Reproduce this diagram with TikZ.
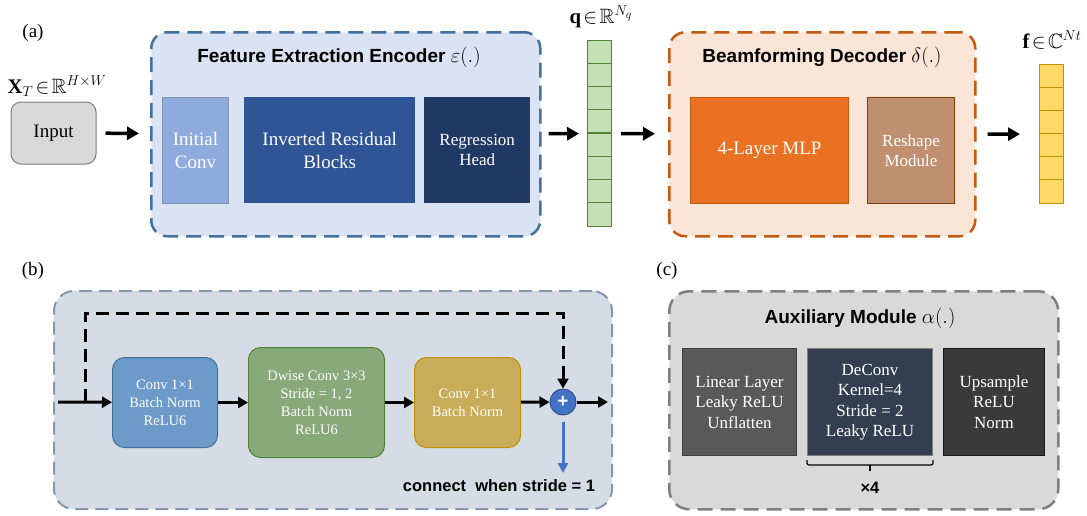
\documentclass[tikz,border=0pt]{standalone}
\usepackage{amsmath}
\usepackage{amssymb}
\usepackage{fontspec}
\setmainfont{Liberation Serif}
\setsansfont{Liberation Sans}
\usetikzlibrary{arrows.meta, positioning, calc}

\definecolor{encfill}{HTML}{DAE3F3}
\definecolor{encline}{HTML}{41719C}
\definecolor{initc}{HTML}{8FAADC}
\definecolor{initline}{HTML}{8093B3}
\definecolor{invc}{HTML}{2F5597}
\definecolor{regc}{HTML}{203864}
\definecolor{qfill}{HTML}{C5E0B4}
\definecolor{qline}{HTML}{548235}
\definecolor{decfill}{HTML}{FBE5D6}
\definecolor{decline}{HTML}{C55A11}
\definecolor{mlpc}{HTML}{EA7022}
\definecolor{reshc}{HTML}{BF8F6F}
\definecolor{reshline}{HTML}{843C0C}
\definecolor{ffill}{HTML}{FFD966}
\definecolor{fline}{HTML}{BF9000}
\definecolor{bfill}{HTML}{D6DCE5}
\definecolor{bline}{HTML}{8497B0}
\definecolor{convc}{HTML}{6D9BC9}
\definecolor{dwc}{HTML}{88A97A}
\definecolor{conv2c}{HTML}{C9AC5A}
\definecolor{plusc}{HTML}{4472C4}
\definecolor{plusline}{HTML}{2F528F}
\definecolor{cfill}{HTML}{D9D9D9}
\definecolor{cline}{HTML}{7F7F7F}
\definecolor{linc}{HTML}{595959}
\definecolor{dcc}{HTML}{333F50}
\definecolor{upc}{HTML}{3A3A3A}

\newcommand{\bigmath}[1]{{\fontsize{20.74}{22}\selectfont$#1$}}

\tikzset{
  panel/.style={anchor=north west, inner sep=0pt, line width=2.5pt,
    dash pattern=on 15pt off 8pt, rounded corners=16pt},
  blk/.style={anchor=north west, inner sep=0pt, align=center, text=white,
    minimum height=106pt, font=\fontsize{19}{23}\selectfont},
  rblk/.style={draw, anchor=north west, inner sep=0pt, align=center, text=white,
    line width=1pt, rounded corners=12pt, font=\fontsize{14.5}{18}\selectfont},
  cblk/.style={draw, anchor=north west, inner sep=0pt, align=center, text=white,
    line width=1pt, minimum height=107pt, font=\fontsize{17}{20.5}\selectfont},
  vec/.style={draw, anchor=north west, inner sep=0pt, line width=1.2pt, minimum width=24pt},
  ttl/.style={font=\sffamily\bfseries\fontsize{19}{22}\selectfont},
  lbl/.style={font=\fontsize{20.74}{24}\selectfont},
  tag/.style={font=\fontsize{19}{23}\selectfont},
  arr/.style={-{Triangle[length=12pt,width=13pt]}, line width=3.5pt},
  barr/.style={-{Triangle[length=10pt,width=11pt]}, line width=3pt},
}

\begin{document}
\begin{tikzpicture}[x=1pt, y=-1pt]
\useasboundingbox (0,0) rectangle (1087,515);

% (a) encoder / decoder
\node[tag] (taga) at (33,33) {(a)};
\node[draw=cline, fill=cfill, line width=1pt, rounded corners=10pt, minimum width=85pt,
  minimum height=62pt, font=\fontsize{19}{23}\selectfont] (input) at (53.5,133) {Input};
\node[lbl] (xt) at (57,86) {$\mathbf{X}_T\!\in\!\mathbb{R}^{H\times W}$};

\node[panel, draw=encline, fill=encfill, minimum width=389pt, minimum height=204pt] (enc) at (150,31) {};
\node[ttl] (enctitle) at (339,57) {Feature Extraction Encoder \bigmath{\varepsilon(.)}};
\node[blk, draw=initline, fill=initc, line width=1pt, minimum width=66pt] (init) at (162,97) {Initial\\Conv};
\node[blk, fill=invc, minimum width=171pt] (inv) at (244,97) {Inverted Residual\\Blocks};
\node[blk, fill=regc, minimum width=106pt, font=\fontsize{17}{20}\selectfont] (reg) at (424,97) {Regression\\Head};

\node[vec, draw=qline, fill=qfill, minimum height=186pt] (qvec) at (587,40) {};
\foreach \i in {1,...,7}
  \draw[qline, line width=1.2pt] ($(qvec.north west)+(0,\i*23.25)$) -- ++(24,0);
\node[lbl] (qlbl) at (601,17) {$\mathbf{q}\!\in\!\mathbb{R}^{N_q}$};

\node[panel, draw=decline, fill=decfill, minimum width=306pt, minimum height=204pt] (dec) at (668,31) {};
\node[ttl] (dectitle) at (822,57) {Beamforming Decoder \bigmath{\delta(.)}};
\node[blk, draw=decline, fill=mlpc, line width=1pt, minimum width=158pt] (mlp) at (690,97) {4-Layer MLP};
\node[blk, draw=reshline, fill=reshc, line width=1pt, minimum width=87pt,
  font=\fontsize{17}{20}\selectfont] (resh) at (867,97) {Reshape\\Module};

\node[vec, draw=fline, fill=ffill, minimum height=139pt] (fvec) at (1039,64) {};
\foreach \i in {1,...,5}
  \draw[fline, line width=1.2pt] ($(fvec.north west)+(0,\i*23.17)$) -- ++(24,0);
\node[lbl] (flbl) at (1052,40) {$\mathbf{f}\!\in\!\mathbb{C}^{Nt}$};

\draw[arr, shorten <=9pt, shorten >=11pt] (input) -- (enc);
\draw[arr, shorten <=7pt, shorten >=8pt] (enc) -- (qvec);
\draw[arr, shorten <=9pt, shorten >=13pt] (qvec) -- (dec);
\draw[arr, shorten <=11pt, shorten >=19pt] (dec) -- (fvec);

% (b) inverted residual block
\node[tag] (tagb) at (33,271) {(b)};
\node[panel, draw=bline, fill=bfill, line width=2pt, dash pattern=on 13pt off 7pt,
  rounded corners=20pt, minimum width=558pt, minimum height=218pt] (bpanel) at (53,290) {};
\node[rblk, draw=encline, fill=convc, minimum width=105pt, minimum height=90pt] (conv1) at (112,357) {Conv 1×1\\Batch Norm\\ReLU6};
\node[rblk, draw=qline, fill=dwc, minimum width=136pt, minimum height=110pt] (dwise) at (248,347) {Dwise Conv 3×3\\Stride = 1, 2\\Batch Norm\\ReLU6};
\node[rblk, draw=fline, fill=conv2c, minimum width=106pt, minimum height=90pt] (conv2) at (414,357) {Conv 1×1\\Batch Norm};
\node[circle, draw=plusline, fill=plusc, line width=1pt, minimum size=26pt, inner sep=0pt,
  text=white, font=\sffamily\bfseries\fontsize{19}{19}\selectfont] (plus) at (563,402) {+};

\coordinate (bin) at (58,402);
\coordinate (skip) at (85,402);
\coordinate (skiptop) at (85,313);
\coordinate (bout) at (608,402);
\coordinate (bdown) at (563,473);

\draw[barr] (bin) -- (conv1);
\draw[barr] (conv1) -- (dwise);
\draw[barr] (dwise) -- (conv2);
\draw[barr] (conv2) -- (plus);
\draw[barr] (plus) -- (bout);
\draw[barr, dash pattern=on 13pt off 7pt] (skip) -- (skiptop) -| (plus);
\draw[-{Triangle[length=10pt,width=10pt]}, plusc, line width=3pt, shorten <=6pt] (plus) -- (bdown);
\node[font=\sffamily\bfseries\fontsize{16.5}{20}\selectfont] (note) at (499,486) {connect\ \ when stride = 1};

% (c) auxiliary module
\node[tag] (tagc) at (667,271) {(c)};
\node[panel, draw=cline, fill=cfill, rounded corners=20pt, minimum width=389pt,
  minimum height=218pt] (cpanel) at (668,290) {};
\node[ttl] (ctitle) at (860,318) {Auxiliary Module \bigmath{\alpha(.)}};
\node[cblk, draw=black!75, fill=linc, minimum width=114pt] (lin) at (682,348) {Linear Layer\\Leaky ReLU\\Unflatten};
\node[cblk, draw=cline, fill=dcc, minimum width=125pt] (deconv) at (807,348) {DeConv\\Kernel=4\\Stride = 2\\Leaky ReLU};
\node[cblk, draw=black!90, fill=upc, minimum width=101pt] (ups) at (943,348) {Upsample\\ReLU\\Norm};

\draw[line width=1.2pt, rounded corners=2pt] ([yshift=-4pt]deconv.south west) -- ([yshift=-9pt]deconv.south west)
  -- ([yshift=-9pt]deconv.south east) -- ([yshift=-4pt]deconv.south east);
\draw[line width=1.2pt] ([yshift=-9pt]deconv.south) -- ([yshift=-15pt]deconv.south);
\node[font=\sffamily\bfseries\fontsize{16.5}{20}\selectfont] (times) at (870,488) {×4};
\end{tikzpicture}
\end{document}
